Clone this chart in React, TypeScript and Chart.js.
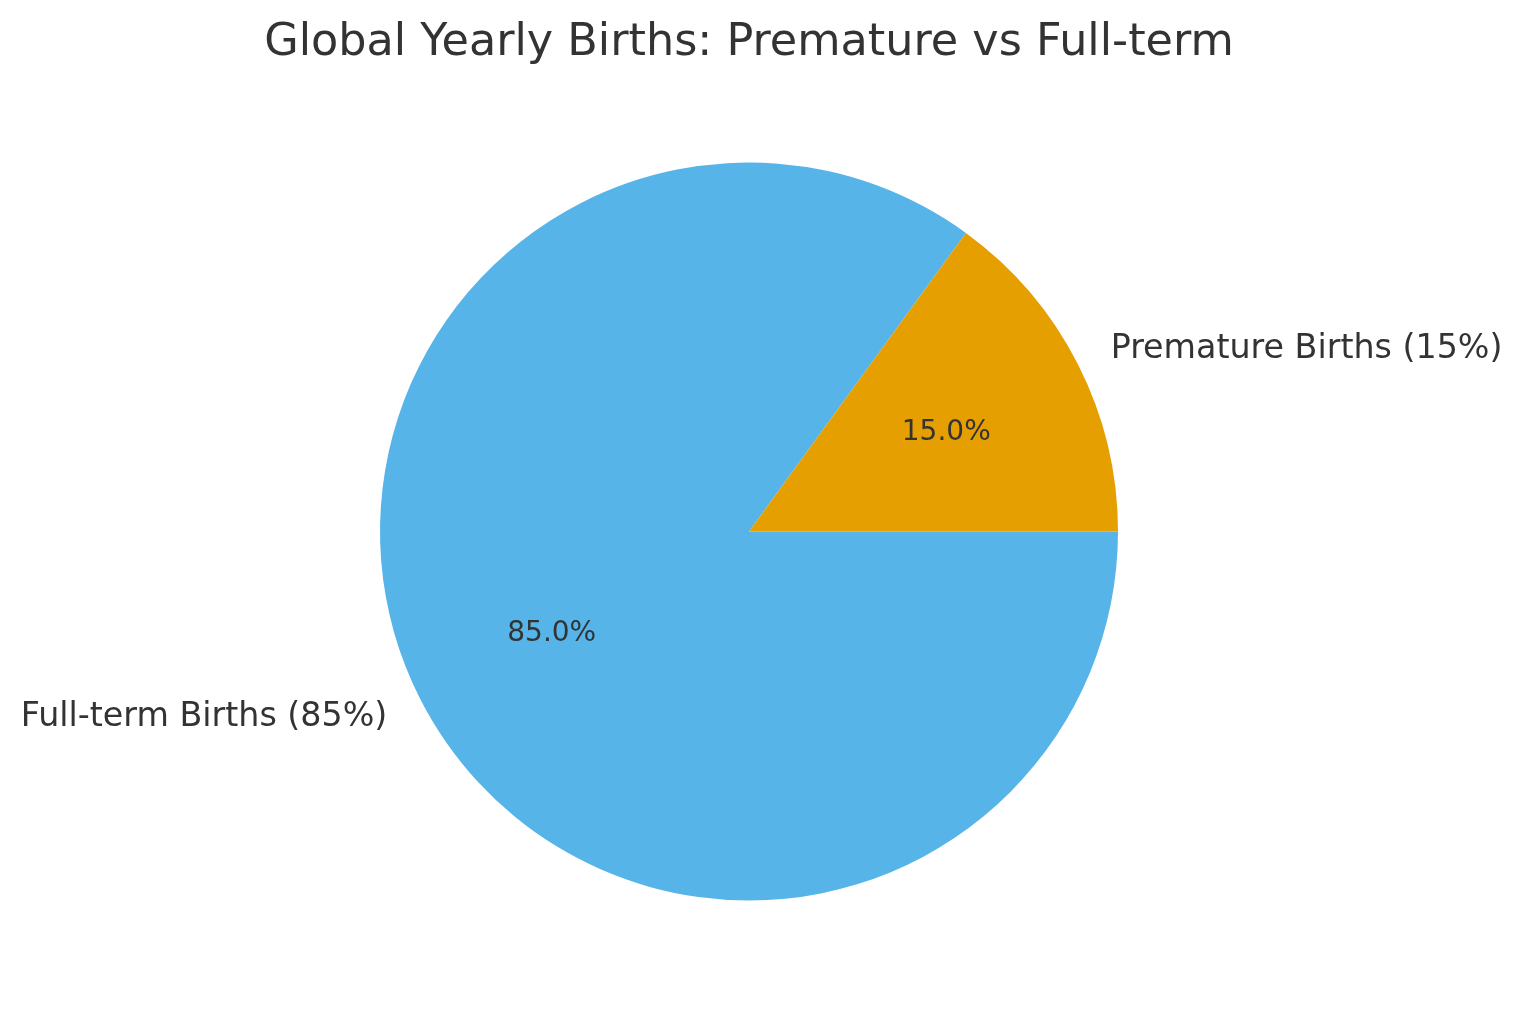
import React, { useEffect, useRef } from "react";
import { Chart, registerables } from "chart.js";

Chart.register(...registerables);

const title = "Global Yearly Births: Premature vs Full-term";
const categories = ["Full-term Births (85%)", "Premature Births (15%)"];
const values = [85, 15];
const colors = ["#56B4E9", "#E69F00"];

const FONT = "'DejaVu Sans', sans-serif";
const TEXT = "#333333";

const textPlugin = {
  id: "pieText",
  afterDraw(chart: any) {
    const ctx = chart.ctx;
    const meta = chart.getDatasetMeta(0);
    const total = values.reduce((a, b) => a + b, 0);
    ctx.save();
    ctx.fillStyle = TEXT;
    // title
    ctx.font = `44.5px ${FONT}`;
    ctx.textAlign = "center";
    ctx.textBaseline = "alphabetic";
    ctx.fillText(title, 749, 55);
    meta.data.forEach((arc: any, i: number) => {
      const { x, y, startAngle, endAngle, outerRadius } = arc.getProps(
        ["x", "y", "startAngle", "endAngle", "outerRadius"],
        true
      );
      const mid = (startAngle + endAngle) / 2;
      const cx = Math.cos(mid);
      const cy = Math.sin(mid);
      ctx.textBaseline = "middle";
      // category label
      ctx.font = `33.3px ${FONT}`;
      ctx.textAlign = cx >= 0 ? "left" : "right";
      ctx.fillText(categories[i], x + cx * outerRadius * 1.1, y + cy * outerRadius * 1.1 + 2);
      // percent label
      ctx.font = `28px ${FONT}`;
      ctx.textAlign = "center";
      const pct = ((values[i] / total) * 100).toFixed(1) + "%";
      ctx.fillText(pct, x + cx * outerRadius * 0.6, y + cy * outerRadius * 0.6 + 2);
    });
    ctx.restore();
  },
};

export default function App() {
  const ref = useRef<HTMLCanvasElement>(null);
  useEffect(() => {
    document.body.style.margin = "0";
    const chart = new Chart(ref.current!, {
      type: "pie",
      data: {
        labels: categories,
        datasets: [
          {
            data: values,
            backgroundColor: colors,
            borderWidth: 0,
          },
        ],
      },
      options: {
        responsive: false,
        animation: false,
        rotation: 90,
        layout: { padding: { left: 380, right: 405, top: 162, bottom: 113 } },
        plugins: {
          legend: { display: false },
          tooltip: { enabled: false },
          title: { display: false },
        },
      },
      plugins: [textPlugin],
    });
    return () => chart.destroy();
  }, []);
  return (
    <div style={{ width: 1523, height: 1014, background: "#fff" }}>
      <canvas ref={ref} width={1523} height={1014} />
    </div>
  );
}
